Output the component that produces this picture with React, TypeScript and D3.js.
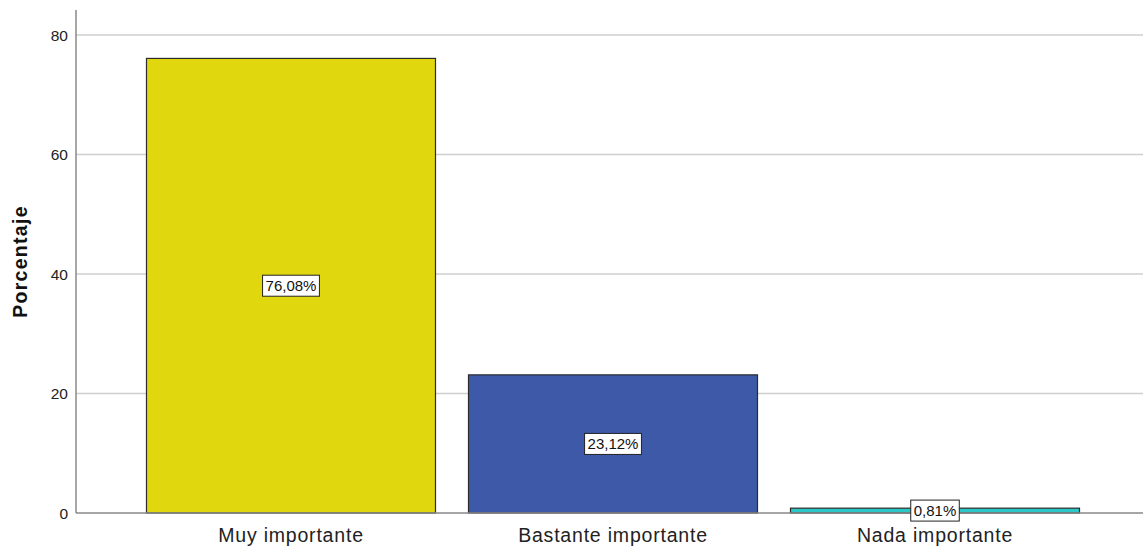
import React from "react";
import * as d3 from "d3";

const categories = ["Muy importante", "Bastante importante", "Nada importante"];
const values = [76.08, 23.12, 0.81];
const labels = ["76,08%", "23,12%", "0,81%"];
const colors = ["#E1D70E", "#3D59A8", "#2BC6C6"];
const yTicks = [0, 20, 40, 60, 80];

function textWidth(s: string, size: number) {
  let w = 0;
  for (const ch of s) {
    if (ch === ",") w += 0.278;
    else if (ch === "%") w += 0.889;
    else w += 0.556;
  }
  return w * size;
}

export default function App() {
  const W = 1143, H = 549;
  const axisX = 76;
  const y = d3.scaleLinear().domain([0, 80]).range([513, 35]);
  const x = d3.scaleBand().domain(categories).range([130, 1096]).paddingInner(0.1025).paddingOuter(0.0512);
  const font = "'Liberation Sans', Arial, sans-serif";
  return (
    <svg width={W} height={H} style={{ position: "absolute", left: 0, top: 0 }} fontFamily={font}>
      <rect width={W} height={H} fill="#fff" />
      {yTicks.filter(t => t > 0).map(t => (
        <line key={t} x1={axisX} x2={W} y1={y(t)} y2={y(t)} stroke="#cfcfcf" strokeWidth={1.5} />
      ))}
      {yTicks.map(t => (
        <text key={"l" + t} x={68} y={y(t)} dy="0.36em" textAnchor="end" fontSize={15.5} fill="#222">{t}</text>
      ))}
      {categories.map((c, i) => (
        <rect key={c} x={x(c)} y={y(values[i])} width={x.bandwidth()} height={y(0) - y(values[i])}
          fill={colors[i]} stroke="#2b2b2b" strokeWidth={1.2} />
      ))}
      <line x1={axisX} x2={axisX} y1={10} y2={y(0)} stroke="#888" strokeWidth={1.5} />
      <line x1={axisX} x2={W} y1={y(0)} y2={y(0)} stroke="#888" strokeWidth={1.5} />
      {categories.map((c, i) => {
        const cx = (x(c) as number) + x.bandwidth() / 2;
        const cy = (y(values[i]) + y(0)) / 2;
        const w = textWidth(labels[i], 15) + 6;
        return (
          <g key={"lab" + c}>
            <rect x={cx - w / 2} y={cy - 10.5} width={w} height={21} fill="#fff" stroke="#222" strokeWidth={1} />
            <text x={cx} y={cy} dy="0.36em" textAnchor="middle" fontSize={15} fill="#111">{labels[i]}</text>
          </g>
        );
      })}
      {categories.map(c => (
        <text key={"x" + c} x={(x(c) as number) + x.bandwidth() / 2} y={542} textAnchor="middle" fontSize={19.5} letterSpacing={0.8} fill="#222">{c}</text>
      ))}
      <text transform={`translate(27, 261.5) rotate(-90)`} textAnchor="middle" fontSize={19.5} letterSpacing={1.3} fontWeight="bold" fill="#111">Porcentaje</text>
    </svg>
  );
}
